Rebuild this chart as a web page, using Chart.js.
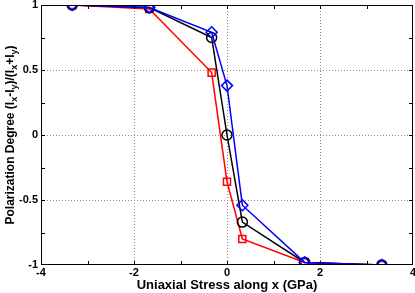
<!DOCTYPE html>
<html>
<head>
<meta charset="utf-8">
<script src="https://cdn.jsdelivr.net/npm/chart.js@4"></script>
<style>
  html, body { margin: 0; padding: 0; background: #fff; }
  #wrap { width: 415px; height: 293px; }
</style>
</head>
<body>
<div id="wrap"><canvas id="chart" width="415" height="293"></canvas></div>
<script>
const stress = [-3.33, -1.67, -0.33, 0, 0.33, 1.67, 3.33]
const blackDegree = [1.0, 0.98, 0.75, 0.0, -0.67, -0.98, -1.0]
const blueDegree = [1.0, 0.98, 0.79, 0.38, -0.54, -0.98, -1.0]
const redDegree = [1.0, 0.97, 0.48, -0.36, -0.80, -0.98, -1.0]
const xTickLabels = ['-4', '-2', '0', '2', '4']
const yTickLabels = ['-1', '-0.5', '0', '0.5', '1']

const FONT = 'Liberation Sans, Arial, sans-serif'
const AREA = { left: 41, right: 413, top: 5, bottom: 265 }

function toPoints(ys) {
  return stress.map((x, i) => ({ x: x, y: ys[i] }))
}

function series(ys, color, style, order) {
  return {
    data: toPoints(ys),
    borderColor: color,
    backgroundColor: 'rgba(0,0,0,0)',
    borderWidth: 1.5,
    pointStyle: style,
    pointRadius: style === 'rectRot' ? 5.5 : 5,
    pointBorderWidth: 1.5,
    pointBorderColor: color,
    pointBackgroundColor: 'rgba(0,0,0,0)',
    order: order,
    tension: 0
  }
}

// dotted grid at the labelled ticks
const dottedGrid = {
  id: 'dottedGrid',
  beforeDatasetsDraw(chart) {
    const ctx = chart.ctx
    const a = chart.chartArea
    const xs = chart.scales.x
    const ys = chart.scales.y
    ctx.save()
    ctx.strokeStyle = '#8c8c8c'
    ctx.lineWidth = 1
    ctx.setLineDash([1, 2])
    ctx.beginPath()
    ;[-2, 0, 2].forEach(v => {
      const px = Math.round(xs.getPixelForValue(v)) + 0.5
      ctx.moveTo(px, a.top); ctx.lineTo(px, a.bottom)
    })
    ;[-0.5, 0, 0.5].forEach(v => {
      const py = Math.round(ys.getPixelForValue(v)) + 0.5
      ctx.moveTo(a.left, py); ctx.lineTo(a.right, py)
    })
    ctx.stroke()
    ctx.restore()
  }
}

// frame, inward tick marks and the y title with subscripts
const decorations = {
  id: 'decorations',
  afterDraw(chart) {
    const ctx = chart.ctx
    const a = chart.chartArea
    const xs = chart.scales.x
    const ys = chart.scales.y
    ctx.save()
    ctx.strokeStyle = '#000'
    ctx.lineWidth = 1
    ctx.strokeRect(a.left + 0.5, a.top + 0.5, a.right - a.left - 1, a.bottom - a.top - 1)
    ctx.beginPath()
    for (let v = -3; v <= 3; v++) {
      const px = Math.round(xs.getPixelForValue(v)) + 0.5
      ctx.moveTo(px, a.bottom); ctx.lineTo(px, a.bottom - 4)
      ctx.moveTo(px, a.top); ctx.lineTo(px, a.top + 4)
    }
    for (let v = -0.75; v <= 0.75; v += 0.25) {
      const py = Math.round(ys.getPixelForValue(v)) + 0.5
      ctx.moveTo(a.left, py); ctx.lineTo(a.left + 4, py)
      ctx.moveTo(a.right, py); ctx.lineTo(a.right - 4, py)
    }
    ctx.stroke()

    // y axis title
    const parts = [
      ['Polarization Degree (I', false], ['x', true], ['-I', false], ['y', true],
      [')/(I', false], ['x', true], ['+I', false], ['y', true], [')', false]
    ]
    const big = 'bold 12px ' + FONT
    const small = 'bold 9px ' + FONT
    let total = 0
    parts.forEach(p => { ctx.font = p[1] ? small : big; total += ctx.measureText(p[0]).width })
    ctx.translate(11, (a.top + a.bottom) / 2)
    ctx.rotate(-Math.PI / 2)
    ctx.fillStyle = '#000'
    ctx.textBaseline = 'middle'
    let cx = -total / 2
    parts.forEach(p => {
      ctx.font = p[1] ? small : big
      ctx.fillText(p[0], cx, p[1] ? 4 : 0)
      cx += ctx.measureText(p[0]).width
    })
    ctx.restore()
  }
}

new Chart(document.getElementById('chart'), {
  type: 'line',
  data: {
    datasets: [
      series(blueDegree, '#0000ff', 'rectRot', 0),
      series(blackDegree, '#000000', 'circle', 1),
      series(redDegree, '#ff0000', 'rect', 2)
    ]
  },
  options: {
    responsive: false,
    animation: false,
    layout: {
      autoPadding: false,
      padding: { top: AREA.top, right: 415 - AREA.right, left: 0, bottom: 0 }
    },
    plugins: { legend: { display: false }, tooltip: { enabled: false } },
    scales: {
      x: {
        type: 'linear',
        min: -4,
        max: 4,
        afterFit(scale) {
          scale.height = 293 - AREA.bottom
          scale.paddingLeft = 0
          scale.paddingRight = 0
        },
        ticks: {
          stepSize: 2,
          autoSkip: false,
          maxRotation: 0,
          padding: 1,
          color: '#000',
          font: { family: FONT, size: 11, weight: 'bold' },
          callback: (v) => xTickLabels[Math.round((v + 4) / 2)]
        },
        grid: { display: false, drawTicks: false },
        border: { display: false },
        title: {
          display: true,
          text: 'Uniaxial Stress along x (GPa)',
          color: '#000',
          font: { family: FONT, size: 13, weight: 'bold' },
          padding: { top: 1, bottom: 0 }
        }
      },
      y: {
        type: 'linear',
        min: -1,
        max: 1,
        afterFit(scale) {
          scale.width = AREA.left
          scale.paddingTop = 0
          scale.paddingBottom = 0
        },
        ticks: {
          stepSize: 0.5,
          autoSkip: false,
          padding: 3,
          color: '#000',
          font: { family: FONT, size: 11, weight: 'bold' },
          callback: (v) => yTickLabels[Math.round((v + 1) * 2)]
        },
        grid: { display: false, drawTicks: false },
        border: { display: false }
      }
    }
  },
  plugins: [dottedGrid, decorations]
})
</script>
</body>
</html>
